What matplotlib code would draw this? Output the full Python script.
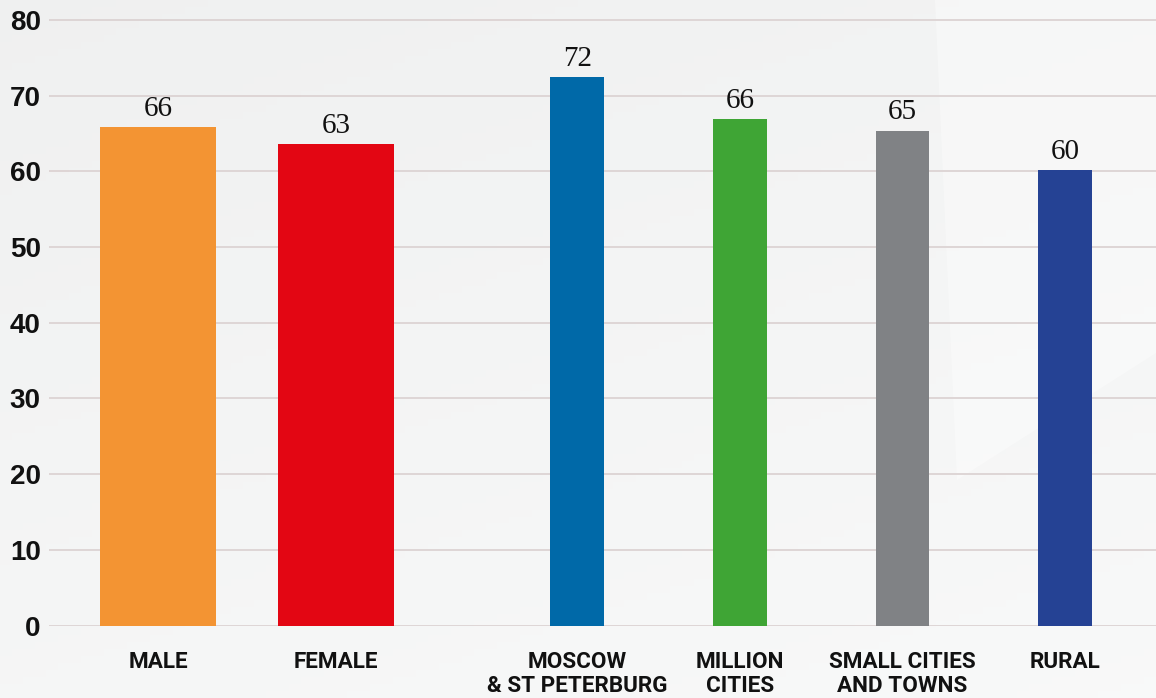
import matplotlib.pyplot as plt
import numpy as np
from matplotlib.patches import Polygon

categories = ["MALE", "FEMALE", "MOSCOW\n& ST PETERBURG", "MILLION\nCITIES",
              "SMALL CITIES\nAND TOWNS", "RURAL"]
values = [65.9, 63.6, 72.5, 66.9, 65.4, 60.2]
value_labels = ["66", "63", "72", "66", "65", "60"]
colors = ["#f39433", "#e30613", "#0069a8", "#3fa535", "#808285", "#254294"]
y_ticks = [0, 10, 20, 30, 40, 50, 60, 70, 80]

# layout: two wide gender bars, then four narrow settlement bars
pos = [0, 1] + [2.355 + 0.914 * i for i in range(4)]
widths = [0.652] * 2 + [0.303] * 4

W, H = 1156, 698
fig = plt.figure(figsize=(W / 100, H / 100), dpi=100)

# soft grey background with a lighter panel on the right
bg = fig.add_axes([0, 0, 1, 1], zorder=-1)
yy, xx = np.mgrid[0:1:100j, 0:1:100j]
shade = 0.940 + 0.022 * yy + 0.012 * xx
bg.imshow(np.dstack([shade, shade + 0.003, shade + 0.003]).clip(0, 1),
          extent=[0, W, H, 0], aspect="auto")
bg.add_patch(Polygon([[935, 0], [957, 480], [1156, 353], [1156, 0]],
                     closed=True, color="white", alpha=0.35, lw=0))
bg.set_xlim(0, W)
bg.set_ylim(H, 0)
bg.axis("off")

ax = fig.add_axes([49 / W, (H - 625.5) / H, 1 - 49 / W, 620.6 / H])
ax.set_facecolor("none")
ax.bar(pos, values, width=widths, color=colors, zorder=2)

for x, v, lab in zip(pos, values, value_labels):
    ax.annotate(lab, (x, v), xytext=(0, 8), textcoords="offset points",
                ha="center", va="baseline", fontsize=21,
                family="Liberation Serif", color="#111111")

ax.set_ylim(0, 82)
ax.set_xlim(-0.612, 5.607)
ax.set_yticks(y_ticks)
ax.set_yticklabels([str(t) for t in y_ticks], fontsize=20, fontweight="bold",
                   family="Liberation Sans")
ax.set_xticks(pos)
ax.set_xticklabels(categories, fontsize=16.2, fontweight="bold",
                   family="Roboto", linespacing=1.1)
ax.tick_params(axis="both", length=0, colors="#111111")
ax.tick_params(axis="y", pad=6)
ax.tick_params(axis="x", pad=18.5)
ax.yaxis.grid(True, color="#dcd3d3", lw=1.3)
ax.set_axisbelow(True)
for s in ax.spines.values():
    s.set_visible(False)

fig.savefig("out.png", dpi=100)
